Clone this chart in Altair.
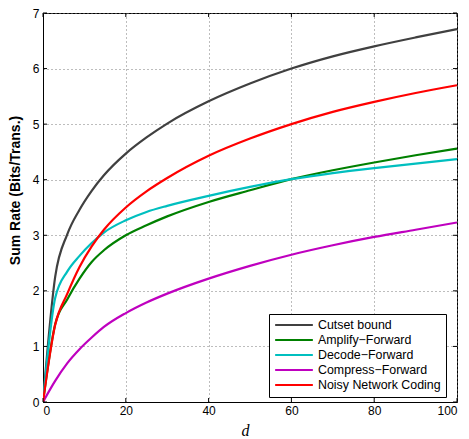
import altair as alt
import pandas as pd

# ---- data ----
d_values = [0, 2.94, 5.88, 8.82, 11.76, 14.71, 20, 25, 30, 40, 50, 60, 70, 80, 90, 100]
cutset   = [0, 2.25, 3.02, 3.46, 3.80, 4.08, 4.47, 4.76, 5.01, 5.41, 5.73, 6.00, 6.22, 6.40, 6.56, 6.71]
amplify  = [0, 1.40, 1.85, 2.22, 2.52, 2.73, 3.00, 3.18, 3.34, 3.60, 3.81, 4.01, 4.17, 4.31, 4.44, 4.56]
decode   = [0, 1.87, 2.35, 2.63, 2.86, 3.05, 3.27, 3.42, 3.53, 3.71, 3.87, 4.01, 4.12, 4.21, 4.29, 4.37]
compress = [0, 0.38, 0.70, 0.95, 1.16, 1.35, 1.60, 1.79, 1.95, 2.22, 2.45, 2.65, 2.82, 2.97, 3.10, 3.23]
nnc      = [0, 1.39, 1.95, 2.43, 2.80, 3.10, 3.50, 3.79, 4.03, 4.43, 4.74, 5.00, 5.22, 5.40, 5.56, 5.70]

names = ["Cutset bound", "Amplify\u2212Forward", "Decode\u2212Forward",
         "Compress\u2212Forward", "Noisy Network Coding"]
colors = ["#404040", "#008000", "#00BFBF", "#BF00BF", "#FF0000"]
x_ticks = [0, 20, 40, 60, 80, 100]
y_ticks = [0, 1, 2, 3, 4, 5, 6, 7]

rows = []
for name, vals in zip(names, [cutset, amplify, decode, compress, nnc]):
    for x, y in zip(d_values, vals):
        rows.append({"d": x, "rate": y, "scheme": name})
df = pd.DataFrame(rows)

W, H = 414, 389

x_axis = alt.Axis(values=x_ticks, title="d", grid=True, ticks=False,
                  titleFont="Liberation Serif", titleFontStyle="italic",
                  titleFontWeight="normal", titleFontSize=16,
                  titleX=202, titleY=33, titleBaseline="alphabetic",
                  labelPadding=3)
y_axis = alt.Axis(values=y_ticks, title="Sum Rate (Bits/Trans.)", grid=True,
                  ticks=False, titleFont="Liberation Sans",
                  titleFontWeight="bold", titleFontSize=14,
                  titleAngle=270, titleX=-28, titleY=177,
                  titleAlign="center", titleBaseline="middle",
                  labelPadding=4)
x_scale = alt.Scale(domain=[0, 100], nice=False, zero=False)
y_scale = alt.Scale(domain=[0, 7], nice=False)

lines = alt.Chart(df).mark_line(strokeWidth=2.2, clip=True, interpolate="monotone").encode(
    x=alt.X("d:Q", scale=x_scale, axis=x_axis),
    y=alt.Y("rate:Q", scale=y_scale, axis=y_axis),
    color=alt.Color("scheme:N", sort=names,
                    scale=alt.Scale(domain=names, range=colors),
                    legend=alt.Legend(title=None, orient="none", legendX=226, legendY=301,
                                      symbolType="stroke", symbolSize=1421,
                                      symbolStrokeWidth=2.2, clipHeight=12,
                                      labelFont="Liberation Sans", labelFontSize=12.4,
                                      labelColor="black", strokeColor="black",
                                      fillColor="white", padding=5, rowPadding=2,
                                      labelOffset=4, labelLimit=300)),
)

xt = pd.DataFrame({"d": x_ticks})
yt = pd.DataFrame({"rate": y_ticks})
tick_style = dict(color="black", strokeWidth=1)
bottom_ticks = alt.Chart(xt).mark_rule(**tick_style).encode(
    x=alt.X("d:Q", scale=x_scale, axis=x_axis), y=alt.value(H), y2=alt.value(H - 4))
top_ticks = alt.Chart(xt).mark_rule(**tick_style).encode(
    x=alt.X("d:Q", scale=x_scale, axis=x_axis), y=alt.value(0), y2=alt.value(4))
left_ticks = alt.Chart(yt).mark_rule(**tick_style).encode(
    y=alt.Y("rate:Q", scale=y_scale, axis=y_axis), x=alt.value(0), x2=alt.value(4))
right_ticks = alt.Chart(yt).mark_rule(**tick_style).encode(
    y=alt.Y("rate:Q", scale=y_scale, axis=y_axis), x=alt.value(W), x2=alt.value(W - 4))

chart = alt.layer(lines, bottom_ticks, top_ticks, left_ticks, right_ticks).properties(
    width=W, height=H,
    autosize="none",
    padding={"left": 43, "top": 13, "right": 12, "bottom": 37},
).configure_axis(
    domainColor="black", domainWidth=1, labelFont="Liberation Sans",
    labelFontSize=12, labelColor="black", titleColor="black",
    gridColor="#7a7a7a", gridDash=[1, 3], gridWidth=1,
).configure_view(stroke="black", strokeWidth=1)

chart.save("out.html", embed_options={"renderer": "svg", "actions": False})
